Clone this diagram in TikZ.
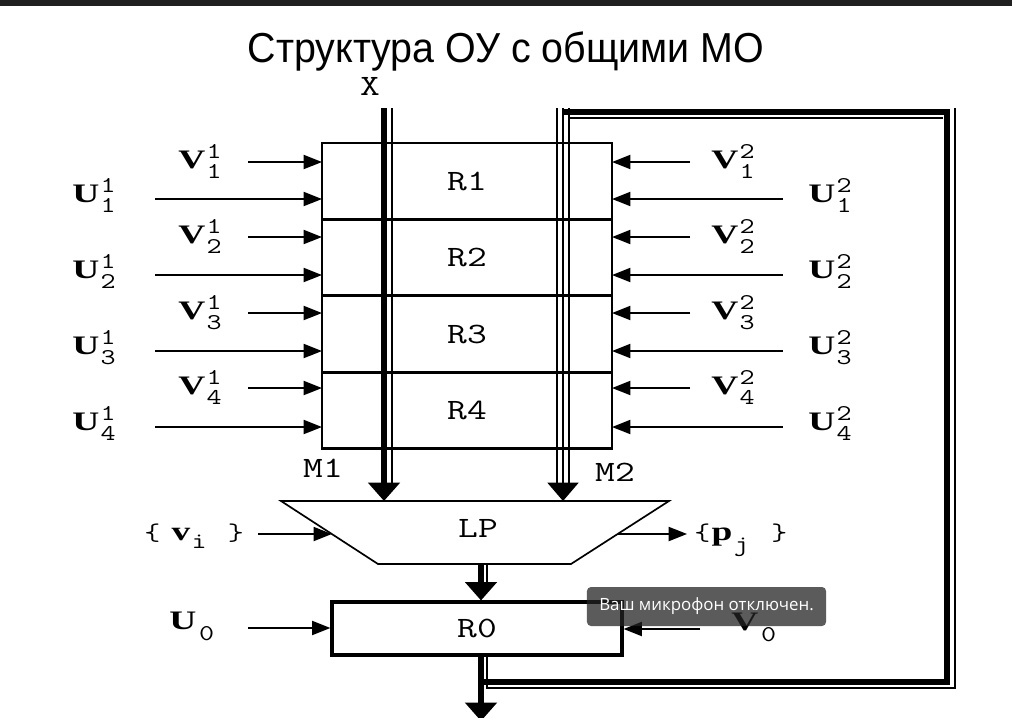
\documentclass[tikz,border=0pt]{standalone}
\usepackage{amsmath}
\usepackage{fontspec}
\setmainfont{Liberation Serif}[FakeStretch=1.4]
\setmonofont{Latin Modern Mono}[FakeStretch=1.3]
\newfontfamily\titlefont{Liberation Sans}[FakeStretch=0.94]
\newfontfamily\uifont{Open Sans}
\usetikzlibrary{arrows.meta,positioning,calc}
\definecolor{topbar}{HTML}{202020}
\definecolor{toast}{HTML}{232323}
\newcommand{\regfont}{\ttfamily\fontsize{21}{24}\selectfont}
\newcommand{\lblfont}{\bfseries\fontsize{19}{22}\selectfont}
\newcommand{\idx}{\mdseries\ttfamily\fontsize{16}{16}\selectfont}
\newcommand{\brc}{\mdseries\ttfamily\fontsize{17}{17}\selectfont}
\newcommand{\sig}[3]{#1\kern1pt\rlap{\raisebox{7pt}{\idx #2}}\raisebox{-7.5pt}{\idx #3}}
\newcommand{\sub}[2]{#1\kern2pt\raisebox{-8pt}{\idx #2}}
\tikzset{
  >={Triangle[length=13pt,width=10pt]},
  wire/.style={line width=1.2pt},
  inarr/.style={wire, ->},
  regbox/.style={draw, line width=2pt, minimum width=7.25cm, minimum height=1.9125cm,
    inner sep=0pt, outer sep=0pt, font=\regfont},
  busthick/.style={line width=4.4pt},
  busthin/.style={line width=1.3pt},
  bustip/.style={-{Triangle[length=13pt,width=22pt]}},
  lbl/.style={font=\lblfont, inner sep=0pt, anchor=base},
  mono/.style={font=\regfont, inner sep=0pt},
  ttl/.style={font=\titlefont\fontsize{29.8}{34}\selectfont, inner sep=0pt},
  tooltip/.style={fill=toast, fill opacity=0.74, text opacity=1, text=white,
    rounded corners=0.1cm, minimum width=5.975cm, minimum height=0.975cm,
    font=\uifont\fontsize{12}{14}\selectfont, inner sep=0pt},
}
\begin{document}
\begin{tikzpicture}[x=0.025cm, y=-0.025cm]
  \useasboundingbox (0,0) rectangle (1012,717);
  \fill[white] (0,0) rectangle (1012,717);
  \fill[topbar] (0,0) rectangle (1012,6);
  \node[ttl, anchor=base] (title) at (506,62) {Структура ОУ с общими МО};

  % registers R1..R4 of the two memories
  \node[regbox, line width=1.2pt] (R1) at (467,181) {R1};
  \node[regbox, below=0pt of R1] (R2) {R2};
  \node[regbox, below=0pt of R2] (R3) {R3};
  \node[regbox, below=0pt of R3] (R4) {R4};

  % control inputs
  \foreach \k/\yv/\yu in {1/162/199, 2/237/275, 3/313/351, 4/388/427}{
    \coordinate (lv\k) at (248,\yv);
    \coordinate (lu\k) at (155,\yu);
    \coordinate (rv\k) at (690,\yv);
    \coordinate (ru\k) at (783,\yu);
    \draw[inarr] (lv\k) -- (lv\k -| R\k.west);
    \draw[inarr] (lu\k) -- (lu\k -| R\k.west);
    \draw[inarr] (rv\k) -- (rv\k -| R\k.east);
    \draw[inarr] (ru\k) -- (ru\k -| R\k.east);
    \node[lbl] (lvl\k) at (200,\yv+6) {\sig{V}{1}{\k}};
    \node[lbl] (lul\k) at (94,\yu+3) {\sig{U}{1}{\k}};
    \node[lbl] (rvl\k) at (733,\yv+6) {\sig{V}{2}{\k}};
    \node[lbl] (rul\k) at (830,\yu+3) {\sig{U}{2}{\k}};
  }

  % LP
  \coordinate (lptl) at (281,501);
  \coordinate (lptr) at (669,501);
  \coordinate (lpbr) at (571,564);
  \coordinate (lpbl) at (378,564);
  \draw[wire] (lptl) -- (lptr) -- (lpbr) -- (lpbl) -- cycle;
  \node[mono] (LP) at (478,528) {LP};
  \coordinate (vin) at (258,534);
  \draw[inarr] (vin) -- ($(lptl)!0.524!(lpbl)$);
  \node[lbl, anchor=base west] (vset) at (144,540)
    {{\brc\{}\kern8pt v\kern1pt\raisebox{-6pt}{\idx i}\kern15pt{\brc\}}};
  \coordinate (pout) at ($(lptr)!0.524!(lpbr)$);
  \draw[inarr] (pout) -- (687,534);
  \node[lbl, anchor=base west] (pset) at (694,540)
    {{\brc\{}\kern1pt p\kern1pt\raisebox{-8pt}{\idx j}\kern16pt{\brc\}}};

  % X bus -> M1
  \coordinate (xtop) at (384,108);
  \node[mono] (xlbl) at (370,86) {X};
  \draw[busthick, bustip] (xtop) -- (xtop |- lptl);
  \draw[busthin] (392,108) -- (392,483);
  \node[mono] (m1) at (323,468) {M1};

  % M2 bus
  \coordinate (m2top) at (563,108);
  \draw[busthin, bustip] (m2top) -- (m2top |- lptl);
  \draw[busthin] (557,108) -- (557,483);
  \draw[busthin] (569,108) -- (569,483);
  \node[mono] (m2) at (615,472) {M2};

  % R0
  \node[draw, line width=2.2pt, minimum width=7.25cm, minimum height=1.325cm,
    inner sep=0pt, font=\regfont] (R0) at (477,628.5) {R0};
  \coordinate (lpout) at (481,564);
  \draw[busthick, bustip] (lpout) -- (lpout |- R0.north);
  \draw[busthin] (487,564) -- (487,584);
  \coordinate (u0s) at (248,628);
  \draw[inarr] (u0s) -- (u0s -| R0.west);
  \node[lbl, anchor=base west] (u0) at (169,629) {\sub{U}{0}};
  \coordinate (v0s) at (700,629);
  \draw[inarr] (v0s) -- (v0s -| R0.east);
  \node[lbl, anchor=base west] (v0) at (731,630) {\sub{V}{0}};

  % output and feedback to M2
  \coordinate (r0out) at (481,655);
  \draw[busthick, bustip] (r0out) -- (481,721);
  \draw[busthin] (487,655) -- (487,688) -- (955,688) -- (955,108);
  \draw[busthick] (481,682) -- (947,682) -- (947,112) -- (562,112);
  \draw[busthin] (569,118) -- (943,118);

  \node[tooltip] (mute) at (706.5,606.5) {Ваш микрофон отключен.};
\end{tikzpicture}
\end{document}
